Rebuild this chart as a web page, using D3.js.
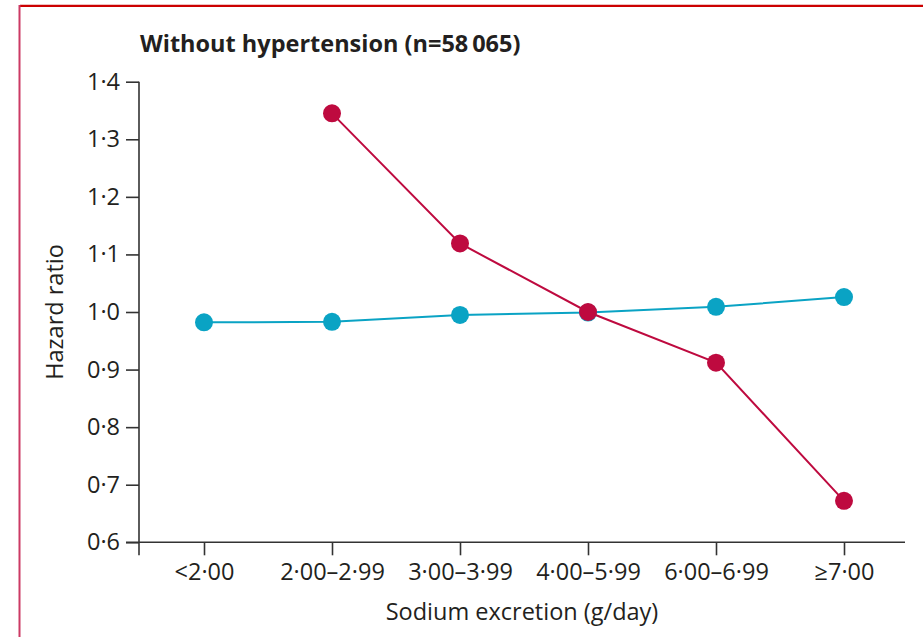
<!DOCTYPE html>
<html>
<head>
<meta charset="utf-8">
<script src="https://cdn.jsdelivr.net/npm/d3@7"></script>
<style>
  html, body { margin: 0; padding: 0; background: #fff; }
  svg { display: block; }
  text { font-family: "Open Sans", "Noto Sans", sans-serif; fill: #231f20; }
</style>
</head>
<body>
<div id="chart"></div>
<script>
'use strict';

// Sodium excretion categories (x axis)
var categories = ['<2·00', '2·00–2·99', '3·00–3·99', '4·00–5·99', '6·00–6·99', '≥7·00'];
// Hazard ratios (null = no point)
var blueHR = [0.982, 0.983, 0.995, 0.999, 1.009, 1.026];
var redHR = [null, 1.345, 1.119, 1.0, 0.912, 0.672];
var yTicks = [0.6, 0.7, 0.8, 0.9, 1.0, 1.1, 1.2, 1.3, 1.4];

var titleText = 'Without hypertension (n=58\u2009065)';
var xLabel = 'Sodium excretion (g/day)';
var yLabel = 'Hazard ratio';

var W = 923, H = 637;
var plotLeft = 139, plotRight = 905, plotTop = 81.7, plotBottom = 542.3;
var tick = 13;
var fontSize = 23.5;
var blue = '#0aa3c4', red = '#be0a3f', axisColor = '#333';

var svg = d3.select('#chart').append('svg')
  .attr('width', W)
  .attr('height', H);

// frame lines
svg.append('line')
  .attr('x1', 20).attr('x2', W)
  .attr('y1', 4.5).attr('y2', 4.5)
  .attr('stroke', '#f0c0c0').attr('stroke-width', 1);
svg.append('line')
  .attr('x1', 20).attr('x2', W)
  .attr('y1', 6).attr('y2', 6)
  .attr('stroke', '#cc0000').attr('stroke-width', 2);
svg.append('line')
  .attr('x1', 19.5).attr('x2', 19.5)
  .attr('y1', 5).attr('y2', H)
  .attr('stroke', '#cc3a64').attr('stroke-width', 2);

var x = d3.scalePoint()
  .domain(categories)
  .range([204, 844]);

var y = d3.scaleLinear()
  .domain([0.6, 1.4])
  .range([plotBottom, plotTop]);

function fmt(d) { return d.toFixed(1).replace('.', '·'); }

// y axis
var ya = svg.append('g')
  .attr('transform', 'translate(' + plotLeft + ',0)')
  .call(d3.axisLeft(y).tickValues(yTicks).tickFormat(fmt).tickSize(tick).tickPadding(6));
ya.select('.domain').remove();
ya.selectAll('line').attr('stroke', axisColor).attr('stroke-width', 1.6);
ya.selectAll('text').attr('font-size', fontSize).attr('font-family', null).style('fill', '#231f20');
ya.append('line')
  .attr('x1', 0).attr('x2', 0)
  .attr('y1', plotTop).attr('y2', plotBottom + tick)
  .attr('stroke', axisColor).attr('stroke-width', 1.6);

// x axis
var xa = svg.append('g')
  .attr('transform', 'translate(0,' + plotBottom + ')')
  .call(d3.axisBottom(x).tickSize(tick).tickPadding(8.5));
xa.select('.domain').remove();
xa.selectAll('line').attr('stroke', axisColor).attr('stroke-width', 1.6);
xa.selectAll('text').attr('font-size', fontSize).attr('font-family', null).style('fill', '#231f20');
xa.append('line')
  .attr('x1', plotLeft - tick).attr('x2', plotRight)
  .attr('y1', 0).attr('y2', 0)
  .attr('stroke', axisColor).attr('stroke-width', 1.6);

// axis labels and title
svg.append('text')
  .attr('x', (plotLeft + plotRight) / 2)
  .attr('y', 620)
  .attr('text-anchor', 'middle')
  .attr('font-size', fontSize)
  .text(xLabel);

svg.append('text')
  .attr('transform', 'translate(63,' + ((plotTop + plotBottom) / 2) + ') rotate(-90)')
  .attr('text-anchor', 'middle')
  .attr('font-size', fontSize)
  .text(yLabel);

svg.append('text')
  .attr('x', 140)
  .attr('y', 52)
  .attr('font-size', 23.5)
  .attr('font-weight', 'bold')
  .text(titleText);

// series
function drawSeries(values, color) {
  var pts = categories.map(function (c, i) { return { c: c, v: values[i] }; })
    .filter(function (d) { return d.v != null; });
  var line = d3.line()
    .x(function (d) { return x(d.c); })
    .y(function (d) { return y(d.v); });
  svg.append('path')
    .datum(pts)
    .attr('d', line)
    .attr('fill', 'none')
    .attr('stroke', color)
    .attr('stroke-width', 2);
  svg.append('g').selectAll('circle')
    .data(pts)
    .enter().append('circle')
    .attr('cx', function (d) { return x(d.c); })
    .attr('cy', function (d) { return y(d.v); })
    .attr('r', 9)
    .attr('fill', color);
}

drawSeries(blueHR, blue);
drawSeries(redHR, red);
</script>
</body>
</html>
